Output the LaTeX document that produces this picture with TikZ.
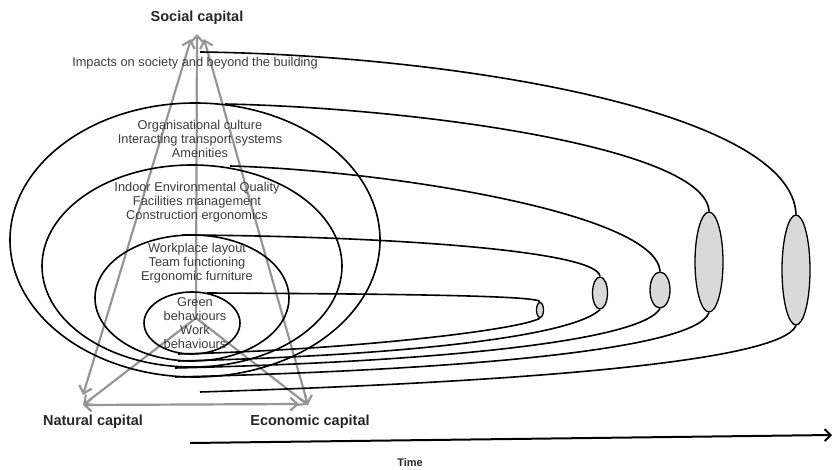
\documentclass[tikz,border=0pt]{standalone}
\usepackage{fontspec}
\setmainfont{Liberation Sans}
\usetikzlibrary{arrows.meta,shapes.geometric}

\definecolor{capgrey}{RGB}{150,150,150}
\definecolor{secfill}{RGB}{217,217,217}
\definecolor{labelgrey}{RGB}{60,60,60}

\tikzset{
  tube/.style={draw=black, line width=1.6pt},
  ring/.style={draw=black, ellipse, line width=1.6pt, inner sep=0pt},
  section/.style={draw=black, ellipse, fill=secfill, line width=1.3pt, inner sep=0pt},
  barb/.tip={Straight Barb[length=7pt,width=13pt]},
  flow/.style={draw=capgrey, line width=2.2pt, -barb},
  flowboth/.style={draw=capgrey, line width=2.2pt, barb-barb},
  lvl/.style={font=\fontsize{12.8}{13.8}\selectfont, text=labelgrey, align=center, inner sep=0pt},
  capital/.style={font=\fontsize{14.5}{16}\selectfont\bfseries, text=black!85, inner sep=0pt},
}

\begin{document}
\begin{tikzpicture}[x=1pt,y=-1pt]
\useasboundingbox (0,0) rectangle (834,470);

% end points of the capital arrows
\coordinate (apexL) at (191,39);
\coordinate (apexM) at (197,34);
\coordinate (apexR) at (204,39);
\coordinate (natTip) at (83,395);
\coordinate (natCorner) at (83,405);
\coordinate (ecoTip) at (299,404);
\coordinate (ecoCorner) at (308,405);
\coordinate (hub) at (196,318);

% triangle of capitals
\draw[flowboth] (natTip) -- (apexL);
\draw[flowboth] (ecoCorner) -- (apexR);
\draw[flowboth] (natCorner) -- (ecoTip);
\draw[flow] (hub) -- (apexM);
\draw[flow] (hub) -- (natCorner);
\draw[flow] (hub) -- (ecoCorner);

% nested levels
\node[ring, minimum width=370, minimum height=274] (e4) at (195,240) {};
\node[ring, minimum width=300, minimum height=202] (e3) at (192,266) {};
\node[ring, minimum width=194, minimum height=126] (e2) at (192,298) {};
\node[ring, minimum width=96, minimum height=62] (e1) at (192,323) {};

% cross-sections at the far end of each tube
\node[section, minimum width=7, minimum height=15] (c1) at (540,310) {};
\node[section, minimum width=15, minimum height=32] (c2) at (600,293) {};
\node[section, minimum width=20, minimum height=36] (c3) at (660,290) {};
\node[section, minimum width=28, minimum height=100] (c4) at (709,262) {};
\node[section, minimum width=28, minimum height=110] (c5) at (796,270) {};

% upper edges of the tubes
\coordinate (t1) at (207,293);
\coordinate (t2) at (182,235);
\coordinate (t3) at (230,166);
\coordinate (t4) at (225,104);
\coordinate (t5) at (200,52);
\draw[tube] (t1) .. controls (420,294) and (540,296) .. (c1.north);
\draw[tube] (t2) .. controls (380,236) and (597,250) .. (c2.north);
\draw[tube] (t3) .. controls (380,170) and (656,212) .. (c3.north);
\draw[tube] (t4) .. controls (420,108) and (706,148) .. (c4.north);
\draw[tube] (t5) .. controls (450,55) and (792,110) .. (c5.north);

% lower edges of the tubes
\coordinate (b1) at (178,354);
\coordinate (b2) at (178,361);
\coordinate (b3) at (175,368);
\coordinate (b4) at (175,377);
\coordinate (b5) at (200,392);
\draw[tube] (c1.south) .. controls (520,330) and (350,350) .. (b1);
\draw[tube] (c2.south) .. controls (570,338) and (390,356) .. (b2);
\draw[tube] (c3.south) .. controls (640,342) and (430,362) .. (b3);
\draw[tube] (c4.south) .. controls (695,350) and (460,370) .. (b4);
\draw[tube] (c5.south) .. controls (780,362) and (520,382) .. (b5);

% time axis
\coordinate (time0) at (190,443);
\coordinate (time1) at (832,435);
\draw[line width=2pt, -{Straight Barb[length=6pt,width=12pt]}] (time0) -- (time1);

% labels
\node[lvl] (impacts) at (195,63) {Impacts on society and beyond the building};
\node[lvl] (lvl4) at (200,139) {Organisational culture\\Interacting transport systems\\Amenities};
\node[lvl] (lvl3) at (197,202) {Indoor Environmental Quality\\Facilities management\\Construction ergonomics};
\node[lvl] (lvl2) at (197,263) {Workplace layout\\Team functioning\\Ergonomic furniture};
\node[lvl] (lvl1) at (195,323) {Green\\behaviours\\Work\\behaviours};

\node[capital] (social) at (197,18) {Social capital};
\node[capital] (natural) at (93,422) {Natural capital};
\node[capital] (economic) at (310,422) {Economic capital};
\node[font=\fontsize{11}{13}\selectfont\bfseries, text=black!85, inner sep=0pt] (time) at (410,463) {Time};
\end{tikzpicture}
\end{document}
